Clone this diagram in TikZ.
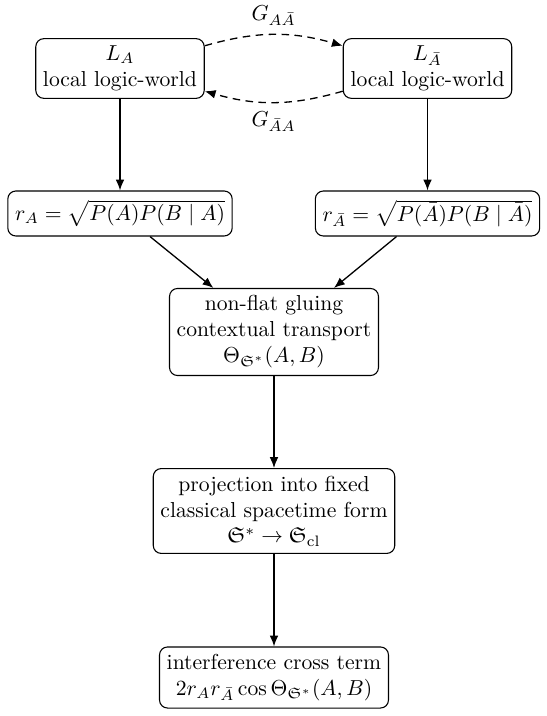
\documentclass[tikz,border=0pt]{standalone}
\usepackage{amsmath,amssymb}
\usetikzlibrary{arrows.meta}
\begin{document}
\begin{tikzpicture}[x=0.4619pt,y=-0.4619pt,
  box/.style={draw,rounded corners=3.7pt,align=center,inner sep=3.33pt,line width=0.5pt},
  rbox/.style={box,minimum height=20.8pt},
  arr/.style={-{Latex[length=5pt,width=4pt]},line width=0.6pt},
  darr/.style={-{Latex[length=5pt,width=4pt]},line width=0.6pt,dash pattern=on 3.5pt off 2.5pt}]
\useasboundingbox (0,0) rectangle (547,716);
\node[box] (LA) at (120,68.5) {$L_A$\\local logic-world};
\node[box] (LAb) at (427.5,68.5) {$L_{\bar A}$\\local logic-world};
\node[rbox] (rA) at (120,213.5) {$r_A=\sqrt{P(A)P(B\mid A)}$};
\node[rbox] (rAb) at (427.5,213.5) {$r_{\bar A}=\sqrt{P(\bar A)P(B\mid \bar A)}$};
\node[box] (th) at (274,332) {non-flat gluing\\contextual transport\\$\Theta_{\mathfrak{S}^*}(A,B)$};
\node[box] (proj) at (274,511) {projection into fixed\\classical spacetime form\\$\mathfrak{S}^*\to\mathfrak{S}_{\mathrm{cl}}$};
\node[box] (int) at (274,677.5) {interference cross term\\$2r_Ar_{\bar A}\cos\Theta_{\mathfrak{S}^*}(A,B)$};
\draw[darr] (LA.15) to[bend left=16] node[above,inner sep=4pt] (g1) {$G_{A\bar A}$} (LAb.165);
\draw[darr] (LAb.-165) to[bend left=16] node[below,inner sep=4pt] (g2) {$G_{\bar A A}$} (LA.-15);
\draw[arr] (LA) -- (rA);
\draw[arr] (LAb) -- (rAb);
\draw[arr] ([xshift=13.86pt]rA.south) -- ([xshift=-28pt]th.north);
\draw[arr] ([xshift=-14.3pt]rAb.south) -- ([xshift=27.7pt]th.north);
\draw[arr] (th) -- (proj);
\draw[arr] (proj) -- (int);
\end{tikzpicture}
\end{document}
